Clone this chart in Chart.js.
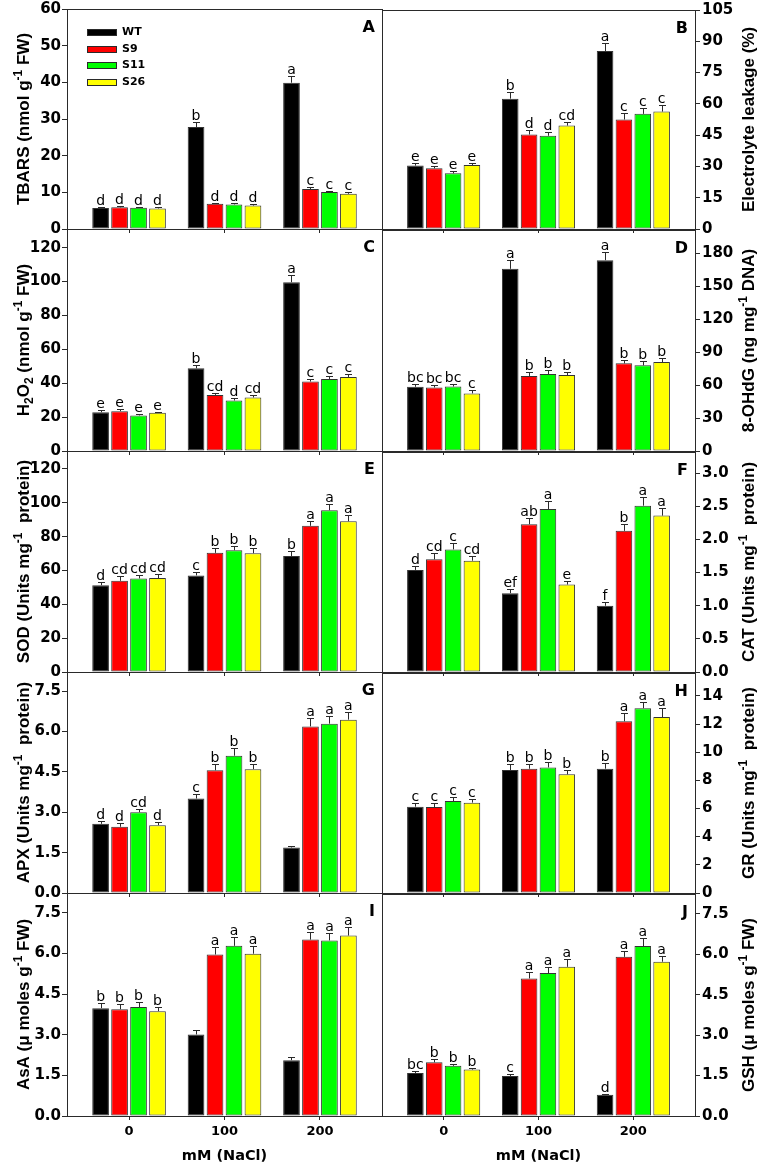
<!DOCTYPE html>
<html><head><meta charset="utf-8">
<script src="https://cdn.jsdelivr.net/npm/chart.js@4.4.0/dist/chart.umd.min.js"></script>
<style>
html,body{margin:0;padding:0;background:#fff;}
#fig{position:relative;width:761px;height:1167px;overflow:hidden;background:#fff;}
.pnl{position:absolute;}
</style></head><body><div id="fig"></div>
<script>
// ---------- data ----------
const categories = [0, 100, 200];            // NaCl (mM)
const series = ['WT', 'S9', 'S11', 'S26'];
const seriesColors = ['#000000', '#ff0000', '#00ff00', '#ffff00'];

// A: TBARS (rows = WT, S9, S11, S26 ; columns = 0, 100, 200 mM)
const tbarsMean = [[5.7, 27.8, 39.9], [5.9, 6.9, 10.9], [5.8, 6.7, 10.1], [5.6, 6.4, 9.6]];
const tbarsErr  = [[0.3, 1.3, 1.7], [0.4, 0.3, 0.5], [0.2, 0.3, 0.3], [0.3, 0.3, 0.4]];
const tbarsSig  = [['d','b','a'], ['d','d','c'], ['d','d','c'], ['d','d','c']];
// B: Electrolyte leakage
const elMean = [[30.4, 62.5, 85.3], [29.1, 45.3, 52.5], [26.7, 44.7, 55.2], [30.7, 49.6, 56.3]];
const elErr  = [[1.3, 3.3, 3.8], [1.3, 2.1, 2.9], [1.1, 1.6, 3.0], [1.1, 1.6, 3.3]];
const elSig  = [['e','b','a'], ['e','d','c'], ['e','d','c'], ['e','cd','c']];
// C: H2O2
const h2o2Mean = [[22.9, 48.8, 99.6], [23.5, 33.1, 41.0], [21.0, 29.8, 42.5], [22.5, 31.6, 43.7]];
const h2o2Err  = [[1.0, 2.0, 4.3], [1.0, 1.2, 1.6], [1.0, 1.6, 2.0], [0.8, 1.2, 1.8]];
const h2o2Sig  = [['e','b','a'], ['e','cd','c'], ['e','d','c'], ['e','cd','c']];
// D: 8-OHdG
const ohdgMean = [[58.5, 166.1, 174.0], [57.9, 68.4, 79.9], [58.8, 70.2, 78.1], [52.5, 69.3, 81.1]];
const ohdgErr  = [[2.4, 7.8, 7.5], [2.7, 3.3, 3.0], [2.7, 3.3, 3.6], [2.7, 3.0, 3.3]];
const ohdgSig  = [['bc','a','a'], ['bc','b','b'], ['bc','b','b'], ['c','b','b']];
// E: SOD
const sodMean = [[51.3, 57.1, 68.5], [53.9, 70.4, 86.4], [55.3, 72.0, 95.6], [55.5, 70.2, 89.1]];
const sodErr  = [[2.0, 1.8, 3.0], [2.6, 3.0, 3.1], [1.8, 2.4, 3.5], [2.4, 2.8, 3.5]];
const sodSig  = [['d','c','b'], ['cd','b','a'], ['cd','b','a'], ['cd','b','a']];
// F: CAT
const catMean = [[1.54, 1.19, 1.00], [1.70, 2.23, 2.13], [1.85, 2.46, 2.51], [1.68, 1.32, 2.36]];
const catErr  = [[0.06, 0.06, 0.06], [0.09, 0.10, 0.10], [0.09, 0.12, 0.13], [0.07, 0.06, 0.11]];
const catSig  = [['d','ef','f'], ['cd','ab','b'], ['c','a','a'], ['cd','e','a']];
// G: APX
const apxMean = [[2.57, 3.51, 1.69], [2.46, 4.56, 6.19], [3.00, 5.10, 6.29], [2.52, 4.60, 6.44]];
const apxErr  = [[0.11, 0.16, 0.07], [0.13, 0.22, 0.32], [0.12, 0.27, 0.30], [0.13, 0.21, 0.30]];
const apxSig  = [['d','c',''], ['d','b','a'], ['cd','b','a'], ['d','b','a']];
// H: GR
const grMean = [[6.13, 8.73, 8.83], [6.11, 8.83, 12.2], [6.53, 8.92, 13.13], [6.42, 8.43, 12.5]];
const grErr  = [[0.26, 0.40, 0.40], [0.26, 0.37, 0.59], [0.28, 0.42, 0.44], [0.23, 0.33, 0.61]];
const grSig  = [['c','b','b'], ['c','b','a'], ['c','b','a'], ['c','b','a']];
// I: AsA
const asaMean = [[3.98, 3.01, 2.06], [3.94, 5.96, 6.51], [4.02, 6.28, 6.48], [3.87, 5.99, 6.66]];
const asaErr  = [[0.18, 0.15, 0.10], [0.18, 0.27, 0.29], [0.18, 0.31, 0.27], [0.17, 0.29, 0.31]];
const asaSig  = [['b','',''], ['b','a','a'], ['b','a','a'], ['b','a','a']];
// J: GSH
const gshMean = [[1.59, 1.48, 0.79], [1.99, 5.10, 5.90], [1.86, 5.30, 6.30], [1.72, 5.53, 5.72]];
const gshErr  = [[0.07, 0.06, 0.03], [0.11, 0.22, 0.21], [0.07, 0.23, 0.31], [0.07, 0.30, 0.23]];
const gshSig  = [['bc','c','d'], ['b','a','a'], ['b','a','a'], ['b','a','a']];

const xTitle = 'mM (NaCl)';

// ---------- panel descriptions ----------
const panels = [
  {tag:'A', side:'left',  row:0, max:60,    step:10,  dec:0, mean:tbarsMean, err:tbarsErr, sig:tbarsSig, legend:true,
   title:[['TBARS (nmol g',0],['-1',1],[' FW)',0]]},
  {tag:'B', side:'right', row:0, max:105,   step:15,  dec:0, mean:elMean, err:elErr, sig:elSig,
   title:[['Electrolyte leakage (%)',0]]},
  {tag:'C', side:'left',  row:1, max:131,   step:20,  dec:0, mean:h2o2Mean, err:h2o2Err, sig:h2o2Sig,
   title:[['H',0],['2',-1],['O',0],['2',-1],[' (nmol g',0],['-1',1],[' FW)',0]]},
  {tag:'D', side:'right', row:1, max:201.5, step:30,  dec:0, mean:ohdgMean, err:ohdgErr, sig:ohdgSig,
   title:[['8-OHdG (ng mg',0],['-1',1],[' DNA)',0]]},
  {tag:'E', side:'left',  row:2, max:130.6, step:20,  dec:0, mean:sodMean, err:sodErr, sig:sodSig,
   title:[['SOD (Units mg',0],['-1',1],['  protein)',0]]},
  {tag:'F', side:'right', row:2, max:3.32,  step:0.5, dec:1, mean:catMean, err:catErr, sig:catSig,
   title:[['CAT (Units mg',0],['-1',1],['  protein)',0]]},
  {tag:'G', side:'left',  row:3, max:8.21,  step:1.5, dec:1, mean:apxMean, err:apxErr, sig:apxSig,
   title:[['APX (Units mg',0],['-1',1],['  protein)',0]]},
  {tag:'H', side:'right', row:3, max:15.63, step:2,   dec:0, mean:grMean, err:grErr, sig:grSig,
   title:[['GR (Units mg',0],['-1',1],['  protein)',0]]},
  {tag:'I', side:'left',  row:4, max:8.23,  step:1.5, dec:1, mean:asaMean, err:asaErr, sig:asaSig,
   title:[['AsA (\u03bc moles g',0],['-1',1],[' FW)',0]]},
  {tag:'J', side:'right', row:4, max:8.23,  step:1.5, dec:1, mean:gshMean, err:gshErr, sig:gshSig,
   title:[['GSH (\u03bc moles g',0],['-1',1],[' FW)',0]]},
];

// ---------- layout ----------
const FIG_W = 761, FIG_H = 1167, DIVIDE = 382;
const rowTops    = [9, 229, 451, 672, 893];
const rowBottoms = [229, 451, 672, 893, 1116];
const PAD_TOP = 10, SIDE_PAD = 10, LEFT_AXIS_W = 67, RIGHT_AXIS_W = 66;
const AXIS_COLOR = '#2a2a2a';
const TICK_FONT = {family:'"DejaVu Sans", sans-serif', weight:'bold', size:15};
const XTICK_FONT = {family:'"DejaVu Sans", sans-serif', weight:'bold', size:13};
const TITLE_FAMILY = '"Liberation Sans", Arial, sans-serif';

function drawRichVertical(ctx, segs, cx, cy, size) {
  const fMain = `bold ${size}px ${TITLE_FAMILY}`;
  const fSmall = `bold ${Math.round(size * 0.68)}px ${TITLE_FAMILY}`;
  let total = 0;
  const widths = segs.map(([t, k]) => { ctx.font = k ? fSmall : fMain; const w = ctx.measureText(t).width; total += w; return w; });
  ctx.save();
  ctx.translate(cx, cy);
  ctx.rotate(-Math.PI / 2);
  ctx.fillStyle = '#000';
  ctx.textAlign = 'left';
  ctx.textBaseline = 'alphabetic';
  const base = size * 0.36;
  let x = -total / 2;
  segs.forEach(([t, k], i) => {
    ctx.font = k ? fSmall : fMain;
    let y = base;
    if (k === 1) y = base - size * 0.42;
    if (k === -1) y = base + size * 0.22;
    ctx.fillText(t, x, y);
    x += widths[i];
  });
  ctx.restore();
}

const fig = document.getElementById('fig');

function makePanel(p) {
  const isLeft = p.side === 'left';
  const top = rowTops[p.row], bottom = rowBottoms[p.row];
  const last = p.row === rowTops.length - 1;
  const xAxisH = last ? FIG_H - bottom : 12;
  const cLeft = isLeft ? 0 : DIVIDE - SIDE_PAD;
  const cWidth = isLeft ? DIVIDE + SIDE_PAD : FIG_W - cLeft;
  const cTop = top - PAD_TOP;
  const cHeight = PAD_TOP + (bottom - top) + xAxisH;

  const wrap = document.createElement('div');
  wrap.className = 'pnl';
  wrap.style.left = cLeft + 'px'; wrap.style.top = cTop + 'px';
  wrap.style.width = cWidth + 'px'; wrap.style.height = cHeight + 'px';
  const cv = document.createElement('canvas');
  cv.width = cWidth; cv.height = cHeight;
  wrap.appendChild(cv);
  fig.appendChild(wrap);

  const extras = {
    id: 'extras' + p.tag,
    afterDatasetsDraw(chart) {
      const ctx = chart.ctx, ys = chart.scales.y;
      ctx.save();
      ctx.strokeStyle = AXIS_COLOR; ctx.lineWidth = 1;
      chart.data.datasets.forEach((ds, i) => {
        const meta = chart.getDatasetMeta(i);
        meta.data.forEach((bar, j) => {
          const v = p.mean[i][j], e = p.err[i][j];
          const yTop = ys.getPixelForValue(v);
          const yErr = Math.round(ys.getPixelForValue(v + e)) + 0.5;
          const x = Math.round(bar.x) + 0.5;
          ctx.beginPath();
          ctx.moveTo(x, yTop); ctx.lineTo(x, yErr);
          ctx.moveTo(x - 3.5, yErr); ctx.lineTo(x + 3.5, yErr);
          ctx.stroke();
          const s = p.sig[i][j];
          if (s) {
            ctx.font = '14px "DejaVu Sans", sans-serif';
            ctx.fillStyle = '#000';
            ctx.textAlign = 'center';
            ctx.textBaseline = 'alphabetic';
            ctx.fillText(s, bar.x, yErr - 3);
          }
        });
      });
      ctx.restore();
    },
    afterDraw(chart) {
      const ctx = chart.ctx, ca = chart.chartArea;
      ctx.save();
      // frame
      ctx.strokeStyle = AXIS_COLOR; ctx.lineWidth = 1;
      ctx.strokeRect(ca.left + 0.5, ca.top + 0.5, ca.right - ca.left, ca.bottom - ca.top);
      // panel tag
      ctx.fillStyle = '#000';
      ctx.font = 'bold 16px "DejaVu Sans", sans-serif';
      ctx.textAlign = 'right'; ctx.textBaseline = 'alphabetic';
      ctx.fillText(p.tag, ca.right - 7, ca.top + 23);
      // legend
      if (p.legend) {
        chart.data.datasets.forEach((ds, i) => {
          const yc = Math.round(ca.top + 23 + i * 16.7);
          ctx.fillStyle = ds.backgroundColor;
          ctx.fillRect(ca.left + 20, yc - 3, 30, 7);
          ctx.strokeStyle = AXIS_COLOR;
          ctx.strokeRect(ca.left + 20.5, yc - 2.5, 29, 6);
          ctx.fillStyle = '#000';
          ctx.font = 'bold 11px "DejaVu Sans", sans-serif';
          ctx.textAlign = 'left'; ctx.textBaseline = 'middle';
          ctx.fillText(ds.label, ca.left + 55, yc + 0.5);
        });
      }
      ctx.restore();
      // y axis title
      const cy = (ca.top + ca.bottom) / 2;
      const cx = isLeft ? ca.left - 44 : ca.right + 53;
      drawRichVertical(ctx, p.title, cx, cy, 17);
    }
  };

  new Chart(cv, {
    type: 'bar',
    data: {
      datasets: series.map((name, i) => ({
        label: name,
        data: categories.map((c, j) => ({x: c, y: p.mean[i][j]})),
        backgroundColor: seriesColors[i],
        borderColor: '#333333',
        borderWidth: 1,
        borderSkipped: false,
        categoryPercentage: 0.795,
        barPercentage: 0.88,
      }))
    },
    options: {
      responsive: false,
      animation: false,
      devicePixelRatio: 1,
      layout: {padding: {top: PAD_TOP, bottom: 0, left: isLeft ? 0 : SIDE_PAD, right: isLeft ? SIDE_PAD : 0}},
      plugins: {legend: {display: false}, tooltip: {enabled: false}},
      scales: {
        x: {
          type: 'linear', min: -65, max: 265, offset: false,
          afterBuildTicks: s => { s.ticks = categories.map(v => ({value: v})); },
          afterFit: s => { s.height = xAxisH; },
          grid: {display: true, offset: false, drawOnChartArea: false, drawTicks: true, tickLength: 4, color: AXIS_COLOR},
          border: {display: true, color: AXIS_COLOR, width: 1},
          ticks: {display: last, font: XTICK_FONT, color: '#000', padding: 4, maxRotation: 0, autoSkip: false,
                  callback: v => String(v)},
          title: {display: last, text: xTitle, color: '#000',
                  font: {family: '"DejaVu Sans", sans-serif', weight: 'bold', size: 14.5}, padding: {top: 4, bottom: 2}}
        },
        y: {
          position: isLeft ? 'left' : 'right',
          min: 0, max: p.max,
          afterFit: s => { s.width = isLeft ? LEFT_AXIS_W : RIGHT_AXIS_W; },
          grid: {display: true, drawOnChartArea: false, drawTicks: true, tickLength: 5, color: AXIS_COLOR},
          border: {display: true, color: AXIS_COLOR, width: 1},
          ticks: {stepSize: p.step, includeBounds: false, color: '#000', font: TICK_FONT, padding: isLeft ? 1 : 2,
                  callback: v => Number(v).toFixed(p.dec)}
        }
      }
    },
    plugins: [extras]
  });
}

panels.forEach(makePanel);
</script>
</body></html>
